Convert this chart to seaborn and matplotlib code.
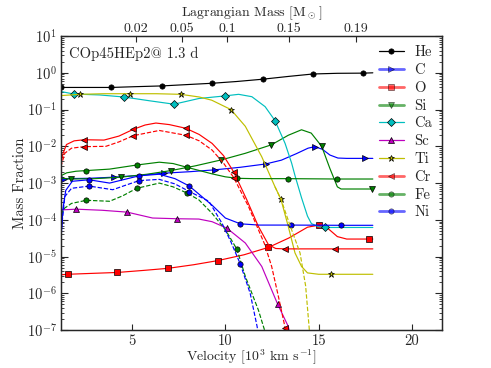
import numpy as np
import pandas as pd
import matplotlib
matplotlib.use("Agg")
import matplotlib.pyplot as plt
from matplotlib.lines import Line2D
import seaborn as sns

# ---------------- data (velocity in 10^3 km/s, mass fraction) ----------------
he_v = [1.19, 2.5, 3.9, 5.2, 6.6, 8.0, 9.3, 10.6, 12.0, 13.4, 14.7, 16.0, 17.4, 17.9]
he_y = [0.40, 0.40, 0.40, 0.42, 0.44, 0.48, 0.52, 0.58, 0.67, 0.80, 0.93, 0.97, 0.98, 1.0]
he_m = [1.19, 3.9, 6.6, 9.3, 12.0, 14.7, 17.4]

c_v = [1.19, 1.37, 2.7, 4.06, 5.4, 6.72, 8.1, 9.42, 10.8, 12.16, 13.0, 13.8, 14.43, 14.79, 15.2, 15.6, 16.03, 16.5, 17.5, 17.9]
c_y = [1.32e-3, 1.32e-3, 1.35e-3, 1.45e-3, 1.62e-3, 1.86e-3, 2.04e-3, 2.29e-3, 2.69e-3, 3.31e-3,
       4.2e-3, 6.3e-3, 8.9e-3, 9.8e-3, 8.3e-3, 5.8e-3, 4.8e-3, 4.7e-3, 4.7e-3, 4.7e-3]
c_m = [1.37, 4.06, 6.72, 9.42, 12.16, 14.79, 17.5]

o_v = [1.19, 1.55, 2.9, 4.22, 5.6, 6.94, 8.3, 9.61, 11.0, 12.31, 13.4, 14.4, 15.02, 15.5, 16.0, 16.5, 17.68, 17.9]
o_y = [3.2e-6, 3.3e-6, 3.5e-6, 3.7e-6, 4.2e-6, 4.8e-6, 6.0e-6, 7.8e-6, 1.12e-5, 1.78e-5,
       3.2e-5, 6.3e-5, 7.2e-5, 5.8e-5, 3.5e-5, 3.0e-5, 3.0e-5, 3.0e-5]
o_m = [1.55, 4.22, 6.94, 9.61, 12.31, 15.02, 17.68]

si_v = [1.19, 1.71, 3.0, 4.42, 5.8, 7.09, 8.4, 9.78, 11.07, 12.47, 13.37, 14.08, 14.6, 15.16, 15.6, 16.0, 16.2, 17.85, 17.9]
si_y = [1.35e-3, 1.29e-3, 1.32e-3, 1.45e-3, 1.74e-3, 2.19e-3, 2.95e-3, 4.27e-3, 6.46e-3, 1.10e-2,
        2.0e-2, 2.82e-2, 2.29e-2, 1.0e-2, 2.5e-3, 7.9e-4, 6.9e-4, 6.9e-4, 6.9e-4]
si_m = [1.71, 4.42, 7.09, 9.78, 12.47, 15.16, 17.85]

ca_v = [1.19, 1.88, 3.26, 4.56, 5.92, 7.25, 8.58, 9.97, 10.71, 11.42, 12.13, 12.66, 13.2, 13.55, 13.73,
        14.08, 14.4, 14.61, 15.0, 15.34, 17.9]
ca_y = [0.31, 0.265, 0.25, 0.22, 0.174, 0.14, 0.20, 0.235, 0.26, 0.224, 0.12, 0.050, 0.012, 3.5e-3,
        1.6e-3, 4.0e-4, 1.26e-4, 7.9e-5, 6.5e-5, 6.2e-5, 6.2e-5]
ca_m = [1.88, 4.56, 7.25, 9.97, 12.66, 15.34]

sc_v = [1.19, 2.02, 3.4, 4.74, 6.1, 7.43, 8.58, 9.29, 10.09, 11.07, 11.95, 12.8, 13.37, 13.5]
sc_y = [1.86e-4, 1.95e-4, 1.82e-4, 1.62e-4, 1.12e-4, 1.07e-4, 1.05e-4, 8.9e-5, 5.9e-5, 2.34e-5,
        5.4e-6, 5.1e-7, 1.26e-7, 6.3e-8]
sc_m = [2.02, 4.74, 7.43, 10.09, 12.8]

ti_v = [1.19, 2.2, 3.5, 4.9, 6.3, 7.6, 8.6, 9.27, 10.3, 11.07, 11.95, 12.66, 12.98, 13.37, 13.73,
        14.08, 14.4, 15.0, 15.67, 17.9]
ti_y = [0.24, 0.26, 0.27, 0.27, 0.27, 0.26, 0.22, 0.18, 0.10, 0.035, 5.2e-3, 7.9e-4, 3.6e-4,
        6.6e-5, 1.26e-5, 5.4e-6, 3.6e-6, 3.3e-6, 3.3e-6, 3.3e-6]
ti_m = [2.2, 4.9, 7.6, 10.3, 12.98, 15.67]

ti2_v = [12.66, 12.98, 13.5, 14.0, 14.3, 14.5, 14.6]
ti2_y = [7.9e-4, 3.6e-4, 6.3e-5, 1.26e-5, 1.6e-6, 1.0e-7, 4.0e-8]
ti2_m = []

cr_v = [1.19, 1.3, 1.49, 1.9, 2.43, 3.5, 4.3, 5.07, 5.7, 6.28, 7.0, 7.88, 8.6, 9.29, 9.9, 10.45,
        11.15, 11.77, 12.31, 12.7, 13.2, 15.9, 17.9]
cr_y = [3.5e-3, 6.3e-3, 1.12e-2, 1.41e-2, 1.51e-2, 1.48e-2, 1.9e-2, 2.9e-2, 3.8e-2, 4.3e-2, 3.9e-2,
        3.1e-2, 2.1e-2, 1.2e-2, 5.6e-3, 2.0e-3, 3.5e-4, 6.6e-5, 2.1e-5, 1.66e-5, 1.62e-5, 1.62e-5, 1.62e-5]
cr_m = [2.43, 5.07, 7.88, 10.45, 13.2, 15.9]

cr2_v = [1.19, 1.4, 1.76, 2.43, 3.6, 4.3, 5.07, 6.46, 7.88, 8.6, 9.29, 9.9, 10.45, 11.24, 11.77,
         12.1, 12.48, 12.84, 13.2, 13.3]
cr2_y = [2.8e-3, 6.5e-3, 8.9e-3, 9.8e-3, 1.0e-2, 1.32e-2, 1.95e-2, 2.7e-2, 2.0e-2, 1.41e-2,
         7.9e-3, 3.5e-3, 1.41e-3, 2.3e-4, 5.4e-5, 2.2e-5, 5.4e-6, 8.3e-7, 1.17e-7, 6.3e-8]
cr2_m = [2.43, 5.07, 7.88, 10.45, 13.2]

fe_v = [1.19, 1.5, 2.0, 2.56, 3.8, 5.25, 6.46, 7.2, 7.93, 8.6, 9.29, 10.0, 10.62, 11.5, 13.33, 16.0, 17.9]
fe_y = [1.58e-3, 1.9e-3, 2.1e-3, 2.19e-3, 2.4e-3, 3.1e-3, 3.7e-3, 3.4e-3, 2.7e-3, 2.2e-3, 1.78e-3,
        1.48e-3, 1.35e-3, 1.32e-3, 1.32e-3, 1.29e-3, 1.29e-3]
fe_m = [2.56, 5.25, 7.93, 10.62, 13.33, 16.0]

fe2_v = [1.19, 1.4, 1.76, 2.56, 3.8, 4.5, 5.25, 6.46, 7.2, 7.93, 8.58, 9.29, 10.0, 10.62, 11.07,
         11.77, 12.1, 12.2]
fe2_y = [1.4e-4, 2.1e-4, 2.8e-4, 3.4e-4, 3.2e-4, 4.5e-4, 7.2e-4, 1.0e-3, 7.9e-4, 5.4e-4, 3.5e-4,
         1.5e-4, 5.4e-5, 1.58e-5, 2.9e-6, 3.5e-7, 1.0e-7, 6.3e-8]
fe2_m = [2.56, 5.25, 7.93, 10.62]

ni_v = [1.19, 1.3, 1.45, 1.8, 2.7, 3.8, 4.6, 5.39, 6.46, 7.3, 8.07, 9.29, 10.0, 10.8, 11.8, 13.51, 16.17, 17.9]
ni_y = [2.5e-5, 2.0e-4, 6.3e-4, 1.12e-3, 1.23e-3, 1.0e-3, 1.26e-3, 1.58e-3, 1.74e-3, 1.32e-3,
        8.3e-4, 2.5e-4, 1.12e-4, 7.8e-5, 7.2e-5, 7.2e-5, 7.1e-5, 7.1e-5]
ni_m = [2.7, 5.39, 8.07, 10.8, 13.51, 16.17]

ni2_v = [1.19, 1.4, 1.76, 2.7, 3.97, 4.7, 5.39, 6.46, 7.3, 8.07, 9.12, 9.83, 10.3, 10.8, 11.33, 11.7, 11.8]
ni2_y = [4.0e-5, 4.3e-4, 7.2e-4, 8.3e-4, 6.6e-4, 8.9e-4, 1.17e-3, 1.26e-3, 9.5e-4, 5.9e-4, 3.2e-4,
         7.9e-5, 2.5e-5, 6.3e-6, 1.0e-6, 1.26e-7, 6.3e-8]
ni2_m = [2.7, 5.39, 8.07, 10.8]

mass_tick_vel = [5.22, 7.66, 10.1, 13.42, 17.0]
mass_tick_lab = ["0.02", "0.05", "0.1", "0.15", "0.19"]
vel_ticks = [5, 10, 15, 20]

# ---------------- style ----------------
sns.set_style("ticks")
plt.rcParams["font.family"] = ["cmr10", "DejaVu Serif"]
plt.rcParams["mathtext.fontset"] = "cm"
plt.rcParams["axes.unicode_minus"] = False
plt.rcParams["axes.formatter.use_mathtext"] = True
plt.rcParams["font.size"] = 10.5

fig = plt.figure(figsize=(4.91, 3.68), dpi=100)
ax = fig.add_axes([0.124, 0.103, 0.776, 0.799])
ax.set_yscale("log")

series = [
    ("He", he_v, he_y, he_m, "k", "o", "-"),
    ("C", c_v, c_y, c_m, "b", ">", "-"),
    ("O", o_v, o_y, o_m, "r", "s", "-"),
    ("Si", si_v, si_y, si_m, "g", "v", "-"),
    ("Ca", ca_v, ca_y, ca_m, "c", "D", "-"),
    ("Sc", sc_v, sc_y, sc_m, "m", "^", "-"),
    ("Ti", ti_v, ti_y, ti_m, "y", "*", "-"),
    ("Cr", cr_v, cr_y, cr_m, "r", "<", "-"),
    ("Fe", fe_v, fe_y, fe_m, "g", "o", "-"),
    ("Ni", ni_v, ni_y, ni_m, "b", "o", "-"),
    ("Ti2", ti2_v, ti2_y, ti2_m, "y", "*", "--"),
    ("Cr2", cr2_v, cr2_y, cr2_m, "r", "<", "--"),
    ("Fe2", fe2_v, fe2_y, fe2_m, "g", "o", "--"),
    ("Ni2", ni2_v, ni2_y, ni2_m, "b", "o", "--"),
]

MS = 3.8
MS_STAR = 5.0
for name, v, y, m, col, mk, ls in series:
    df = pd.DataFrame({"v": v, "y": y})
    idx = [i for i, vv in enumerate(v) if vv in m]
    ms = MS_STAR if mk == "*" else MS
    sns.lineplot(data=df, x="v", y="y", ax=ax, color=col, lw=0.85, ls=ls,
                 marker=mk, markevery=idx if idx else None, ms=ms if idx else 0,
                 mec="k", mew=0.5, errorbar=None, legend=False)

ax.set_xlim(1.19, 21.6)
ax.set_ylim(1e-7, 10)
ax.set_xticks(vel_ticks)
ax.set_xticklabels([str(t) for t in vel_ticks])
ax.tick_params(axis="x", which="both", direction="in", top=False, length=4, pad=3)
ax.tick_params(axis="y", which="both", direction="in", left=True, right=True, pad=3)
ax.tick_params(axis="y", which="major", length=5)
ax.tick_params(axis="y", which="minor", length=2.5)
ax.set_xlabel(r"Velocity [10$^3$ km s$^{-1}$]", labelpad=0, fontsize=10)
ax.set_ylabel("Mass Fraction", labelpad=0, fontsize=10.5)
ax.set_yticks([10.0 ** k for k in range(-7, 2)])
ax.yaxis.set_minor_locator(matplotlib.ticker.LogLocator(base=10, subs=np.arange(2, 10), numticks=20))
ax.yaxis.set_minor_formatter(matplotlib.ticker.NullFormatter())

for sp in ax.spines.values():
    sp.set_linewidth(1.0)

ax2 = ax.twiny()
ax2.set_xlim(ax.get_xlim())
ax2.set_xticks(mass_tick_vel)
ax2.set_xticklabels(mass_tick_lab, fontsize=10)
ax2.tick_params(axis="x", direction="in", length=4, pad=1.0)
ax2.set_xlabel(r"Lagrangian Mass [M$_\odot$]", labelpad=4.5, fontsize=10)

ax.text(0.02, 0.965, "COp45HEp2@ 1.3 d", transform=ax.transAxes, ha="left", va="top", fontsize=10.5)

handles = []
labels = []
thick = {"C", "O", "Si", "Cr", "Fe", "Ni"}
for name, v, y, m, col, mk, ls in series[:10]:
    handles.append(Line2D([], [], color=col, lw=2.0 if name in thick else 0.9,
                          alpha=0.6 if name in thick else 1.0,
                          marker=mk, ms=MS_STAR if mk == "*" else MS, mec="k", mew=0.5,
                          markerfacecolor=col))
    labels.append(name)
ax.legend(handles, labels, loc="upper right", bbox_to_anchor=(1.0, 1.0), frameon=False,
          handlelength=1.75, handletextpad=0.7, labelspacing=0.28, fontsize=10.5,
          borderaxespad=0.25, borderpad=0.4)

fig.savefig("out.png", dpi=100)
